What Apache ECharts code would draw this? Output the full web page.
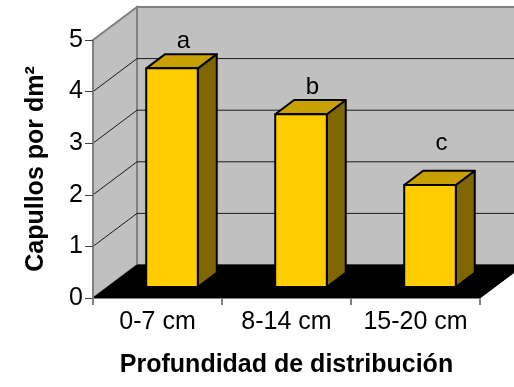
<!DOCTYPE html>
<html>
<head>
<meta charset="utf-8">
<script src="https://cdn.jsdelivr.net/npm/echarts@6/dist/echarts.min.js"></script>
<style>
  html, body { margin: 0; padding: 0; background: #ffffff; }
  #chart { width: 514px; height: 387px; }
</style>
</head>
<body>
<div id="chart"></div>
<script>
// Cocoon density by soil depth
const categories = ['0-7 cm', '8-14 cm', '15-20 cm'];
const capullos = [4.24, 3.35, 1.98];
const letters = ['a', 'b', 'c'];
const yTicks = [0, 1, 2, 3, 4, 5];

const FONT = '"Liberation Sans", Arial, sans-serif';
// oblique depth of the 3D box (pixels) and bar slot inside it (fraction of depth)
const DX = 44, DY = -33;
const D_FRONT = 0.33, D_BACK = 0.76;
const BAR_FRAC = 0.4;
const letterLift = [1, 1, 15];

const chart = echarts.init(document.getElementById('chart'), null, { renderer: 'canvas' });

function renderBox(params, api) {
  const yMin = yTicks[0], yMax = yTicks[yTicks.length - 1];
  const p0 = api.coord([0, yMin]);
  const band = api.size([1, 0])[0];
  const xL = p0[0] - band / 2;
  const xR = xL + band * categories.length;
  const y0 = p0[1];
  const yTop = api.coord([0, yMax])[1];
  const children = [];
  // left side wall
  children.push({
    type: 'polygon',
    shape: { points: [[xL, y0], [xL, yTop], [xL + DX, yTop + DY], [xL + DX, y0 + DY]] },
    style: { fill: '#c0c0c0', stroke: '#808080', lineWidth: 2 }
  });
  // back wall
  children.push({
    type: 'rect',
    shape: { x: xL + DX, y: yTop + DY, width: xR - xL + 40, height: y0 - yTop },
    style: { fill: '#c0c0c0', stroke: '#808080', lineWidth: 2 }
  });
  // floor
  children.push({
    type: 'polygon',
    shape: { points: [[xL, y0], [xR, y0], [xR + DX, y0 + DY], [xL + DX, y0 + DY]] },
    style: { fill: '#000000', stroke: '#000000', lineWidth: 1 }
  });
  // gridlines across side wall and back wall
  yTicks.slice(1, -1).forEach(function (v) {
    const y = api.coord([0, v])[1];
    children.push({
      type: 'polyline',
      shape: { points: [[xL, y], [xL + DX, y + DY], [xR + DX + 40, y + DY]] },
      style: { fill: null, stroke: '#1a1a1a', lineWidth: 1 }
    });
  });
  return { type: 'group', children: children };
}

function renderBar(params, api) {
  const idx = api.value(0);
  const val = api.value(1);
  const top = api.coord([idx, val]);
  const base = api.coord([idx, 0]);
  const band = api.size([1, 0])[0];
  const w = band * BAR_FRAC;
  const fx = top[0] - w / 2 + DX * D_FRONT;
  const fyT = top[1] + DY * D_FRONT;
  const fyB = base[1] + DY * D_FRONT;
  const ddx = DX * (D_BACK - D_FRONT);
  const ddy = DY * (D_BACK - D_FRONT);
  const edge = { stroke: '#000000', lineWidth: 2, lineJoin: 'round' };
  return {
    type: 'group',
    children: [
      {
        type: 'polygon',
        shape: { points: [[fx + w, fyT], [fx + w + ddx, fyT + ddy], [fx + w + ddx, fyB + ddy], [fx + w, fyB]] },
        style: Object.assign({ fill: '#806600' }, edge)
      },
      {
        type: 'polygon',
        shape: { points: [[fx, fyT], [fx + w, fyT], [fx + w + ddx, fyT + ddy], [fx + ddx, fyT + ddy]] },
        style: Object.assign({ fill: '#c8a000' }, edge)
      },
      {
        type: 'rect',
        shape: { x: fx, y: fyT, width: w, height: fyB - fyT },
        style: Object.assign({ fill: '#ffcc00' }, edge)
      },
      {
        type: 'text',
        style: {
          text: letters[params.dataIndex],
          x: fx + w / 2 + ddx / 2 + 2,
          y: fyT + ddy - letterLift[params.dataIndex],
          textAlign: 'center',
          textVerticalAlign: 'bottom',
          fill: '#000000',
          font: '24px ' + FONT
        }
      }
    ]
  };
}

chart.setOption({
  animation: false,
  backgroundColor: '#ffffff',
  textStyle: { fontFamily: FONT },
  grid: { left: 93, right: 34, top: 40, bottom: 89, containLabel: false },
  xAxis: {
    type: 'category',
    data: categories,
    z: 5,
    name: 'Profundidad de distribución',
    nameLocation: 'middle',
    nameGap: 55,
    nameTextStyle: { fontSize: 25, fontWeight: 'bold', color: '#000', fontFamily: FONT },
    axisLine: { lineStyle: { color: '#808080', width: 1 } },
    axisTick: { show: true, interval: 0, length: 7, lineStyle: { color: '#808080', width: 2 } },
    axisLabel: { interval: 0, hideOverlap: false, fontSize: 25, color: '#000', margin: 12, fontFamily: FONT },
    splitLine: { show: false }
  },
  yAxis: {
    type: 'value',
    min: 0,
    max: 5,
    interval: 1,
    z: 5,
    name: 'Capullos por dm²',
    nameLocation: 'middle',
    nameGap: 44,
    nameTextStyle: { fontSize: 25, fontWeight: 'bold', color: '#000', fontFamily: FONT },
    axisLine: { show: true, lineStyle: { color: '#808080', width: 2 } },
    axisTick: { show: true, length: 8, lineStyle: { color: '#404040', width: 1 } },
    axisLabel: { fontSize: 25, color: '#000', margin: 10, fontFamily: FONT },
    splitLine: { show: false }
  },
  series: [
    {
      type: 'custom',
      z: 1,
      clip: false,
      silent: true,
      renderItem: renderBox,
      data: [[0, 0]]
    },
    {
      type: 'custom',
      z: 3,
      clip: false,
      renderItem: renderBar,
      data: capullos.map(function (v, i) { return [i, v]; })
    }
  ]
});
</script>
</body>
</html>
